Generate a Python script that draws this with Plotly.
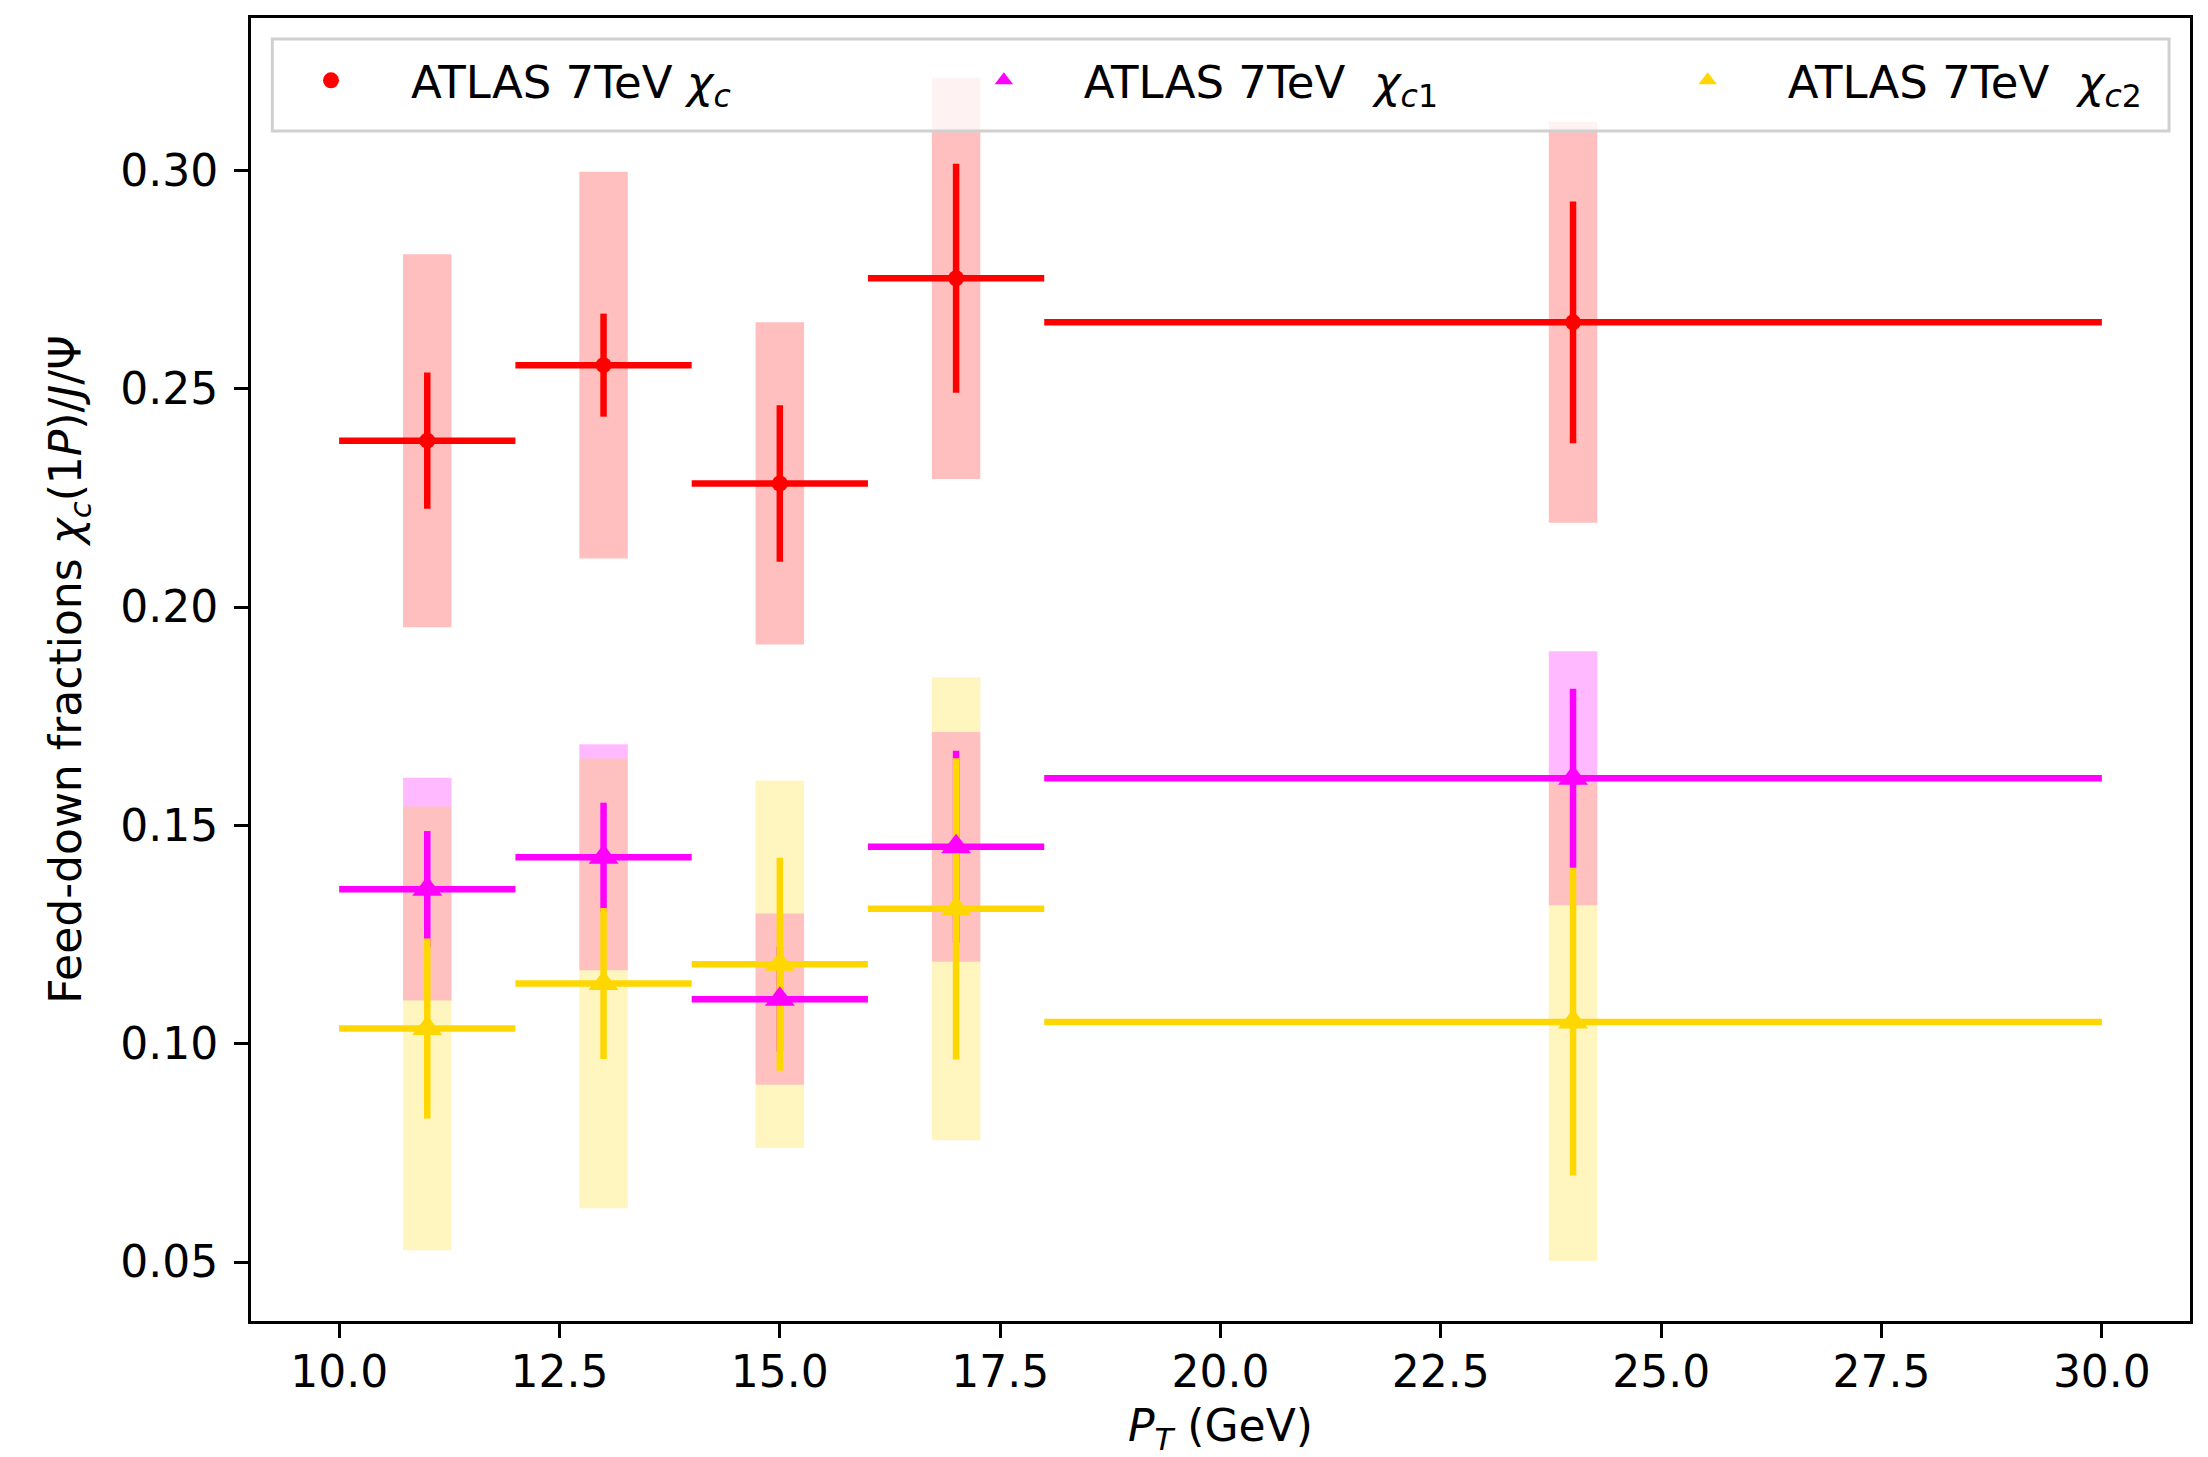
import plotly.graph_objects as go

# ---- data ----
pt = [11, 13, 15, 17, 24]
pt_halfbin = [1, 1, 1, 1, 6]

chic_val = [0.2381, 0.2554, 0.2283, 0.2753, 0.2652]
chic_stat = [0.0156, 0.0118, 0.0179, 0.0262, 0.0277]
chic_sys = [0.0427, 0.0443, 0.0369, 0.0460, 0.0459]

chic1_val = [0.1354, 0.1427, 0.1102, 0.1451, 0.1608]
chic1_stat = [0.0133, 0.0125, 0.0120, 0.0220, 0.0205]
chic1_sys = [0.0255, 0.0259, 0.0196, 0.0263, 0.0291]

chic2_val = [0.1035, 0.1138, 0.1182, 0.1309, 0.1050]
chic2_stat = [0.0206, 0.0173, 0.0244, 0.0345, 0.0352]
chic2_sys = [0.0508, 0.0515, 0.0421, 0.0530, 0.0547]

names = [
    "ATLAS 7TeV <i>χ</i><sub><i>c</i></sub>",
    "ATLAS 7TeV\u00a0 <i>χ</i><sub><i>c</i>1</sub>",
    "ATLAS 7TeV\u00a0 <i>χ</i><sub><i>c</i>2</sub>",
]
xtick_vals = [10.0, 12.5, 15.0, 17.5, 20.0, 22.5, 25.0, 27.5, 30.0]
ytick_vals = [0.05, 0.10, 0.15, 0.20, 0.25, 0.30]

series = [
    (chic_val, chic_stat, chic_sys, "#ff0000", "rgba(255,0,0,0.25)", "circle", 16),
    (chic1_val, chic1_stat, chic1_sys, "#ff00ff", "rgba(255,0,255,0.27)", "triangle-up", 26),
    (chic2_val, chic2_stat, chic2_sys, "#ffd700", "rgba(255,215,0,0.25)", "triangle-up", 26),
]

FONT = "DejaVu Sans"
TICK_FS = 44
TITLE_FS = 44
LEG_FS = 45
LW = 6.5

fig = go.Figure()

# systematic boxes
for val, stat, sys, col, boxcol, sym, ms in series:
    fig.add_trace(go.Bar(
        x=pt, base=[v - s for v, s in zip(val, sys)], y=[2 * s for s in sys],
        width=0.55, marker=dict(color=boxcol, line=dict(width=0)),
        showlegend=False, hoverinfo="skip"))

# error bars (bins + statistical)
for val, stat, sys, col, boxcol, sym, ms in series:
    fig.add_trace(go.Scatter(
        x=pt, y=val, mode="markers",
        marker=dict(size=2, color="rgba(0,0,0,0)"),
        error_x=dict(type="data", array=pt_halfbin, symmetric=True, width=0, thickness=LW, color=col),
        error_y=dict(type="data", array=stat, symmetric=True, width=0, thickness=LW, color=col),
        showlegend=False, hoverinfo="skip"))

# markers (with legend entries)
legend_ids = ["legend", "legend2", "legend3"]
for i, (val, stat, sys, col, boxcol, sym, ms) in enumerate(series):
    fig.add_trace(go.Scatter(
        x=pt, y=val, mode="markers", name=names[i],
        marker=dict(symbol=sym, size=ms, color=col, line=dict(width=0)),
        legend=legend_ids[i]))

leg_common = dict(
    orientation="v", bgcolor="rgba(0,0,0,0)", borderwidth=0,
    font=dict(family=FONT, size=LEG_FS, color="#000"),
    xanchor="left", yanchor="middle", y=0.952, itemwidth=150,
)

# the page adds an 8px body margin: the figure is sized to fit the window
fig.update_layout(
    width=2200, height=1449,
    margin=dict(l=243, r=18, t=10, b=136),
    paper_bgcolor="white", plot_bgcolor="white",
    barmode="overlay",
    font=dict(family=FONT, size=TICK_FS, color="#000"),
    legend=dict(x=0.0, **leg_common),
    legend2=dict(x=0.347, **leg_common),
    legend3=dict(x=0.710, **leg_common),
    shapes=[dict(type="rect", xref="paper", yref="paper",
                 x0=0.011, x1=0.9892, y0=0.9133, y1=0.9839,
                 line=dict(color="#d0d0d0", width=3),
                 fillcolor="rgba(255,255,255,0.8)", layer="above")],
    xaxis=dict(
        range=[9, 31], tickvals=xtick_vals, ticktext=[f"{v:.1f}" for v in xtick_vals],
        ticks="outside", ticklen=14, tickwidth=3, tickcolor="#000",
        ticklabelstandoff=-4,
        showline=True, linecolor="#000", linewidth=3, mirror=True,
        showgrid=False, zeroline=False, automargin=False,
        tickfont=dict(family=FONT, size=TICK_FS, color="#000"),
        title=dict(text="<i>P</i><sub><i>T</i></sub> (GeV)", standoff=36,
                   font=dict(family=FONT, size=TITLE_FS, color="#000")),
    ),
    yaxis=dict(
        range=[0.0365, 0.3349], tickvals=ytick_vals, ticktext=[f"{v:.2f}" for v in ytick_vals],
        ticks="outside", ticklen=14, tickwidth=3, tickcolor="#000",
        ticklabelstandoff=7,
        showline=True, linecolor="#000", linewidth=3, mirror=True,
        showgrid=False, zeroline=False, automargin=False,
        tickfont=dict(family=FONT, size=TICK_FS, color="#000"),
        title=dict(text="Feed-down fractions <i>χ</i><sub><i>c</i></sub>(1<i>P</i>)/<i>J</i>/Ψ",
                   standoff=25, font=dict(family=FONT, size=TITLE_FS, color="#000")),
    ),
)

fig.write_html("out.html")
